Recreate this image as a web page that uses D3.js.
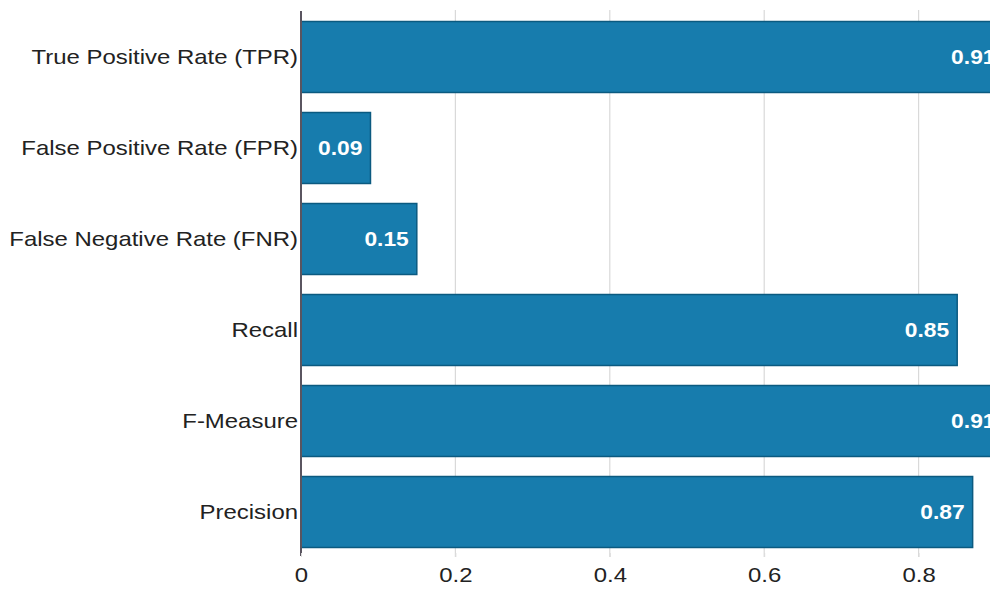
<!DOCTYPE html>
<html><head><meta charset="utf-8">
<script src="https://cdn.jsdelivr.net/npm/d3@7"></script>
<style>body{margin:0;background:#fff;} svg{display:block;}</style>
</head><body>
<svg id="c" width="990" height="589"></svg>
<script>
const categories = ["True Positive Rate (TPR)","False Positive Rate (FPR)","False Negative Rate (FNR)","Recall","F-Measure","Precision"];
const values = [0.91, 0.09, 0.15, 0.85, 0.91, 0.87];
const xTicks = [0, 0.2, 0.4, 0.6, 0.8];

const FONT = "Liberation Sans, Arial, sans-serif";
const STRETCH = 1.14;
function stretch(sel) {
  sel.each(function() {
    const w = this.getComputedTextLength();
    d3.select(this).attr("textLength", w * STRETCH).attr("lengthAdjust", "spacingAndGlyphs");
  });
}

const svg = d3.select("#c");
const x = d3.scaleLinear().domain([0, 1]).range([301, 1073]);
const y = d3.scaleBand().domain(categories).range([11.5, 557.5]).paddingInner(0.22).paddingOuter(0.11);

// grid
svg.append("g").selectAll("line").data(xTicks.filter(d => d > 0)).join("line")
  .attr("x1", d => x(d)).attr("x2", d => x(d))
  .attr("y1", 10).attr("y2", 557)
  .attr("stroke", "#d9d9d9").attr("stroke-width", 1.2);

// bars
svg.append("g").selectAll("rect").data(values).join("rect")
  .attr("x", x(0)).attr("y", (d, i) => y(categories[i]))
  .attr("width", d => x(d) - x(0)).attr("height", y.bandwidth())
  .attr("fill", "#177cad").attr("stroke", "#0b5a80").attr("stroke-width", 1.5);

// value labels
svg.append("g").selectAll("text").data(values).join("text")
  .attr("x", d => x(d) - 8).attr("y", (d, i) => y(categories[i]) + y.bandwidth() / 2)
  .attr("dy", "0.36em").attr("text-anchor", "end")
  .attr("fill", "#fff").attr("font-weight", "bold")
  .attr("font-family", FONT).attr("font-size", 20)
  .text(d => d.toFixed(2))
  .call(stretch);

// y axis
const yAxis = d3.axisLeft(y).tickSize(0).tickPadding(3);
const gy = svg.append("g").attr("transform", `translate(${x(0)},0)`).call(yAxis);
gy.select(".domain").remove();
gy.selectAll("text").attr("font-family", FONT).attr("font-size", 21).attr("fill", "#222").call(stretch);
svg.append("line").attr("x1", x(0)).attr("x2", x(0)).attr("y1", 11).attr("y2", 556)
  .attr("stroke", "#5a5560").attr("stroke-width", 2);

// x axis
const xAxis = d3.axisBottom(x).tickValues(xTicks).tickSize(4).tickFormat(d => d === 0 ? "0" : d3.format(".1f")(d));
const gx = svg.append("g").attr("transform", `translate(0,553)`).call(xAxis);
gx.select(".domain").remove();
gx.selectAll("line").attr("stroke", "#ddd");
gx.selectAll("text").attr("font-family", FONT).attr("font-size", 21).attr("fill", "#222").attr("dy", "1.05em").call(stretch);
</script>
</body></html>
